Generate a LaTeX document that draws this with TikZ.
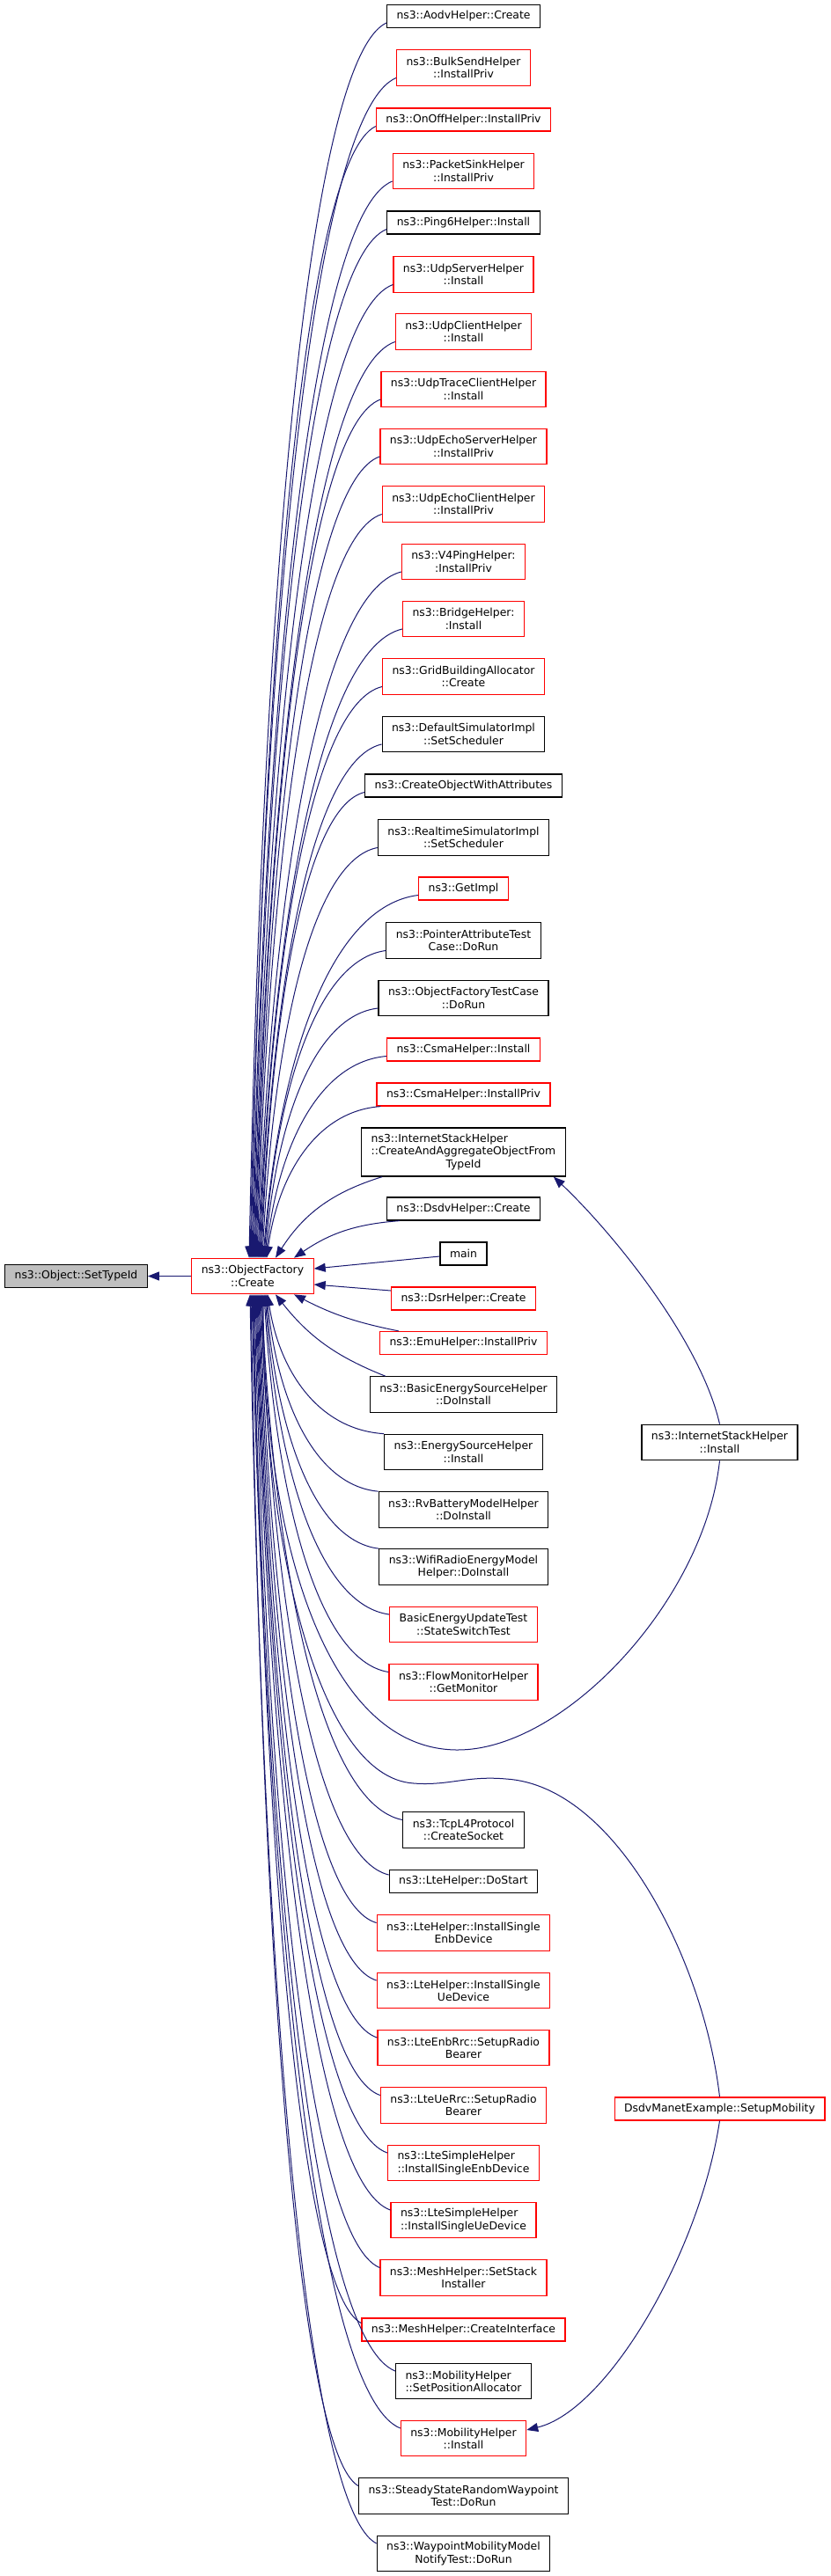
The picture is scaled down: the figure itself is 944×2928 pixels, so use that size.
\documentclass[tikz,border=0pt]{standalone}
\usepackage{fontspec}
\setmainfont{DejaVu Sans}
\usetikzlibrary{arrows.meta,calc}
\definecolor{edgeblue}{HTML}{191970}
\definecolor{boxgrey}{HTML}{BFBFBF}

% caller -> ObjectFactory::Create, ending at x = #2 on side #3
\newcommand{\callto}[3]{%
	\coordinate (s) at (#1);
	\coordinate (t) at (#2,0 |- create.#3);
	\coordinate (v) at (t |- s);
	\coordinate (p) at ($(s)!0.55!(v)$);
	\coordinate (m) at ($(t)!0.5!(v)$);
	\draw[call] (s) .. controls ($(p)!0.03!(t)$) and ($(m)!0.1!(s)$) .. (t);}

\begin{document}
\begin{tikzpicture}[x=1pt, y=-1pt, every node/.style = {shape=rectangle, draw, line width=1.2pt, align=center, inner xsep=11pt, inner ysep=2pt, font=\fontsize{12.4}{14.3}\selectfont}, one/.style = {minimum height=26pt}, two/.style = {minimum height=40.5pt}, three/.style = {minimum height=55pt}, part/.style = {draw=red}, full/.style = {draw=black}, root/.style = {draw=black, fill=boxgrey}, call/.style = {draw=edgeblue, line width=1pt, -{Triangle[length=13pt,width=10pt]}}]
\useasboundingbox (0,0) rectangle (944,2928);

\node[one,root] (settype) at (86.5,1450.5) {ns3::Object::SetTypeId};
\node[two,part] (create) at (287,1450.5) {ns3::ObjectFactory\\::Create};

\node[one,full] (aodv) at (526.5,18.5) {ns3::AodvHelper::Create};
\node[two,part] (bulk) at (526.5,77) {ns3::BulkSendHelper\\::InstallPriv};
\node[one,part] (onoff) at (526.5,136) {ns3::OnOffHelper::InstallPriv};
\node[two,part] (sink) at (526.5,194.5) {ns3::PacketSinkHelper\\::InstallPriv};
\node[one,full] (ping) at (526.5,253) {ns3::Ping6Helper::Install};
\node[two,part] (udpsrv) at (526.5,312) {ns3::UdpServerHelper\\::Install};
\node[two,part] (udpcli) at (526.5,377) {ns3::UdpClientHelper\\::Install};
\node[two,part] (udptrace) at (526.5,442.5) {ns3::UdpTraceClientHelper\\::Install};
\node[two,part] (echosrv) at (526.5,507.5) {ns3::UdpEchoServerHelper\\::InstallPriv};
\node[two,part] (echocli) at (526.5,573) {ns3::UdpEchoClientHelper\\::InstallPriv};
\node[two,part] (v4ping) at (526.5,638.5) {ns3::V4PingHelper:\\:InstallPriv};
\node[two,part] (bridge) at (526.5,703.5) {ns3::BridgeHelper:\\:Install};
\node[two,part] (grid) at (526.5,769) {ns3::GridBuildingAllocator\\::Create};
\node[two,full] (defsim) at (526.5,834.5) {ns3::DefaultSimulatorImpl\\::SetScheduler};
\node[one,full] (createobj) at (526.5,893) {ns3::CreateObjectWithAttributes};
\node[two,full] (rtsim) at (526.5,952) {ns3::RealtimeSimulatorImpl\\::SetScheduler};
\node[one,part] (getimpl) at (526.5,1010) {ns3::GetImpl};
\node[two,full] (pointer) at (526.5,1069) {ns3::PointerAttributeTest\\Case::DoRun};
\node[two,full] (oftest) at (526.5,1134.5) {ns3::ObjectFactoryTestCase\\::DoRun};
\node[one,part] (csma) at (526.5,1193) {ns3::CsmaHelper::Install};
\node[one,part] (csmapriv) at (526.5,1244) {ns3::CsmaHelper::InstallPriv};
\node[three,full] (isagg) at (526.5,1309.5) {\rlap{ns3::InternetStackHelper}\phantom{::CreateAndAggregateObjectFrom}\\::CreateAndAggregateObjectFrom\\TypeId};
\node[one,full] (dsdv) at (526.5,1374) {ns3::DsdvHelper::Create};
\node[one,full] (main) at (526.5,1425) {main};
\node[one,part] (dsr) at (526.5,1476) {ns3::DsrHelper::Create};
\node[one,part] (emu) at (526.5,1526.5) {ns3::EmuHelper::InstallPriv};
\node[two,full] (bes) at (526.5,1585) {ns3::BasicEnergySourceHelper\\::DoInstall};
\node[two,full] (es) at (526.5,1650.5) {ns3::EnergySourceHelper\\::Install};
\node[two,full] (rv) at (526.5,1716) {ns3::RvBatteryModelHelper\\::DoInstall};
\node[two,full] (wifi) at (526.5,1781) {ns3::WifiRadioEnergyModel\\Helper::DoInstall};
\node[two,part] (beut) at (526.5,1846.5) {BasicEnergyUpdateTest\\::StateSwitchTest};
\node[two,part] (flow) at (526.5,1912) {ns3::FlowMonitorHelper\\::GetMonitor};
\node[two,full] (tcp) at (526.5,2080) {ns3::TcpL4Protocol\\::CreateSocket};
\node[one,full] (dostart) at (526.5,2138.5) {ns3::LteHelper::DoStart};
\node[two,part] (lteenb) at (526.5,2197) {ns3::LteHelper::InstallSingle\\EnbDevice};
\node[two,part] (lteue) at (526.5,2262.5) {ns3::LteHelper::InstallSingle\\UeDevice};
\node[two,part] (enbrrc) at (526.5,2327.5) {ns3::LteEnbRrc::SetupRadio\\Bearer};
\node[two,part] (uerrc) at (526.5,2393) {ns3::LteUeRrc::SetupRadio\\Bearer};
\node[two,part] (simpenb) at (526.5,2458.5) {\rlap{ns3::LteSimpleHelper}\phantom{::InstallSingleEnbDevice}\\::InstallSingleEnbDevice};
\node[two,part] (simpue) at (526.5,2523.5) {\rlap{ns3::LteSimpleHelper}\phantom{::InstallSingleUeDevice}\\::InstallSingleUeDevice};
\node[two,part] (meshstack) at (526.5,2589) {ns3::MeshHelper::SetStack\\Installer};
\node[one,part] (meshif) at (526.5,2648) {ns3::MeshHelper::CreateInterface};
\node[two,full] (mobpos) at (526.5,2706.5) {\rlap{ns3::MobilityHelper}\phantom{::SetPositionAllocator}\\::SetPositionAllocator};
\node[two,part] (mobinst) at (526.5,2771.5) {ns3::MobilityHelper\\::Install};
\node[two,full] (steady) at (526.5,2837) {ns3::SteadyStateRandomWaypoint\\Test::DoRun};
\node[two,full] (waypoint) at (526.5,2902.5) {ns3::WaypointMobilityModel\\NotifyTest::DoRun};

\node[two,full] (ish) at (817.5,1639.5) {ns3::InternetStackHelper\\::Install};
\node[one,part] (dsdvm) at (817.5,2397) {DsdvManetExample::SetupMobility};

\draw[call] (create) -- (settype);

\foreach \n/\tx in {aodv/283, bulk/284, onoff/285, sink/286, ping/287, udpsrv/288, udpcli/289, udptrace/290, echosrv/291, echocli/292, v4ping/293, bridge/294, grid/295, defsim/296, createobj/297, rtsim/298, getimpl/299, pointer/300, oftest/301, csma/302}
	{\callto{$(\n.west)!0.55!(\n.south west)$}{\tx}{north}}
\callto{[xshift=5pt]csmapriv.south west}{303}{north}
\draw[call] ([xshift=24pt]isagg.south west) to[bend right=20] (313,0 |- create.north);
\draw[call] ([xshift=15pt]dsdv.south west) to[bend right=15] (334,0 |- create.north);
\draw[call] ([yshift=-3pt]main.west) -- ([yshift=8.5pt]create.east);
\draw[call] ([yshift=9pt]dsr.west) -- ([yshift=-9.5pt]create.east);
\draw[call] ([xshift=22pt]emu.north west) to[bend left=8] (334,0 |- create.south);
\draw[call] ([xshift=18pt]bes.north west) to[bend left=15] (313,0 |- create.south);
\foreach \n/\tx in {es/304, rv/303, wifi/302}
	{\callto{\n.north west}{\tx}{south}}
\foreach \n/\tx in {beut/301, flow/300, tcp/297, dostart/296, lteenb/295, lteue/294, enbrrc/293, uerrc/292, simpenb/291, simpue/290, meshstack/289, meshif/288, mobpos/287, mobinst/286, steady/285, waypoint/284}
	{\callto{$(\n.west)!0.55!(\n.north west)$}{\tx}{south}}

\draw[call] (ish.north) .. controls (795,1520) and (690,1395) .. ([xshift=-14pt]isagg.south east);
\draw[call] (ish.south) .. controls (800,1820) and (640,1990) .. (519,1989) .. controls (370,1988) and (300,1750) .. (299,0 |- create.south);
\draw[call] (dsdvm.north) .. controls (800,2230) and (700,2030) .. (575,2022) .. controls (530,2018) and (510,2030) .. (470,2027) .. controls (360,2020) and (300,1750) .. (298,0 |- create.south);
\draw[call] (dsdvm.south) .. controls (795,2560) and (690,2740) .. ([yshift=9.5pt]mobinst.east);
\end{tikzpicture}
\end{document}
